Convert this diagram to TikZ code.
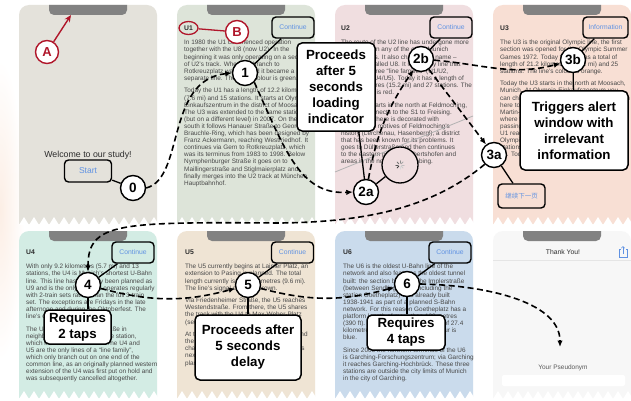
\documentclass[tikz,border=0pt]{standalone}
\usepackage{fontspec}
\setmainfont{Liberation Sans}
\newfontfamily\cjkfont{Noto Sans CJK SC}
\usetikzlibrary{arrows.meta,shapes.geometric}
\definecolor{annred}{RGB}{176,22,42}
\definecolor{uiblue}{RGB}{96,146,226}
\definecolor{notchgray}{RGB}{130,130,130}
\definecolor{bodygray}{RGB}{72,72,72}
\definecolor{labgray}{RGB}{45,45,45}
\definecolor{cwel}{RGB}{228,226,219}
\definecolor{cuone}{RGB}{221,228,217}
\definecolor{cutwo}{RGB}{240,222,224}
\definecolor{cuthree}{RGB}{248,223,212}
\definecolor{cufour}{RGB}{211,236,228}
\definecolor{cufive}{RGB}{239,228,212}
\definecolor{cusix}{RGB}{202,219,236}
\definecolor{cthanks}{RGB}{247,247,247}
\definecolor{peachc}{RGB}{252,238,229}

% x, top, bottom, width, colour
\newcommand\phonebody[5]{%
  \fill[#5] (#1,-#3) -- (#1,-#2-10) arc[start angle=180,end angle=90,radius=10pt]
     -- (#1+#4-10,-#2) arc[start angle=90,end angle=0,radius=10pt] -- (#1+#4,-#3) -- cycle;
  \foreach \k in {0,...,13}{\fill[white] (#1+\k*10,-#3-1) -- (#1+\k*10+5,-#3+7) -- (#1+\k*10+10,-#3-1) -- cycle;}
  \fill[notchgray] (#1+#4/2-39,-#2) -- (#1+#4/2-39,-#2-5) arc[start angle=180,end angle=270,radius=5pt]
     -- (#1+#4/2+34,-#2-10) arc[start angle=270,end angle=360,radius=5pt] -- (#1+#4/2+39,-#2) -- cycle;
}

\begin{document}
\begin{tikzpicture}[x=1pt,y=1pt,
  num/.style={circle,draw=black,fill=white,line width=1.4pt,minimum size=25pt,inner sep=0pt,
    font=\fontsize{13.5}{14}\selectfont\bfseries},
  redc/.style={circle,draw=annred,fill=white,line width=1.4pt,minimum size=23pt,inner sep=0pt,
    text=annred,font=\fontsize{13}{14}\selectfont\bfseries},
  btn/.style={draw=black,line width=1.4pt,rounded corners=4pt,minimum width=42pt,minimum height=21pt,
    inner sep=0pt,text=uiblue,font=\fontsize{6.8}{8}\selectfont},
  callout/.style={draw=black,fill=white,line width=1.5pt,rounded corners=5pt,align=center,inner sep=0pt,
    font=\fontsize{13.3}{16}\selectfont\bfseries},
  link/.style={line width=1.3pt},
  flow/.style={line width=1.6pt,dash pattern=on 6pt off 3.5pt,-{Latex[length=6.5pt,width=5.5pt]}},
  body/.style={anchor=north west,inner sep=0pt,align=left,font=\fontsize{6.4}{7.1}\selectfont,text=bodygray},
  ulabel/.style={anchor=west,inner sep=0pt,font=\fontsize{6.8}{8}\selectfont\bfseries,text=labgray}
]
\useasboundingbox (0,0) rectangle (631,-401);
\fill[white] (0,0) rectangle (631,-401);
\shade[inner color=peachc,outer color=white] (0,-210) ellipse [x radius=24pt,y radius=150pt];

% ---------- screens ----------
\phonebody{19}{5}{224}{138}{cwel}
\phonebody{177}{5}{224}{138}{cuone}
\phonebody{335}{5}{224}{138}{cutwo}
\phonebody{493}{5}{224}{138}{cuthree}
\phonebody{19}{231}{398}{138}{cufour}
\phonebody{177}{231}{398}{138}{cufive}
\phonebody{335}{231}{398}{138}{cusix}
\phonebody{493}{231}{398}{138}{cthanks}

% ---------- welcome screen ----------
\node[inner sep=0pt,text=labgray,font=\fontsize{8.8}{10}\selectfont] (welcome) at (88,-155) {Welcome to our study!};
\node[btn,minimum width=47pt,minimum height=22pt,font=\fontsize{8.5}{10}\selectfont] (start) at (88,-171) {Start};

% ---------- U1 ----------
\node[ulabel] (lone) at (184,-28) {U1};
\node[body] (tone) at (184,-40) {In 1980 the U1 commenced operation\\
together with the U8 (now U2). In the\\
beginning it was only operating on a section\\
of U2's track. When the branch to\\
Rotkreuzplatz was opened it became a\\
separate line. The line's colour is green.\\[5.5pt]
Today the U1 has a length of 12.2 kilometres\\
(7.6 mi) and 15 stations. It starts at Olympia-\\
Einkaufszentrum in the district of Moosach.\\
The U3 was extended to the same station\\
(but on a different level) in 2007. On the way\\
south it follows Hanauer Straße to Georg-\\
Brauchle-Ring, which has been designed by\\
Franz Ackermann, reaching Westfriedhof. It\\
continues via Gern to Rotkreuzplatz, which\\
was its terminus from 1983 to 1998. Below\\
Nymphenburger Straße it goes on to\\
Maillingerstraße and Stiglmaierplatz and\\
finally merges into the U2 track at München\\
Hauptbahnhof.};
\node[btn] (cont1) at (293,-27.5) {Continue};

% ---------- U2 ----------
\node[ulabel] (ltwo) at (341,-28) {U2};
\node[body] (ttwo) at (341,-40) {The route of the U2 line has undergone more\\
changes than any of the other Munich\\
U-Bahn lines. It also changed its name --\\
it was first called U8. It is the only line that\\
runs in all three “line families” (U1/U2,\\
U3/U6 and U4/U5). Today it has a length of\\
24.4 kilometres (15.2 mi) and 27 stations. The\\
line's colour is red.\\[5.5pt]
The route starts in the north at Feldmoching,\\
where it connects to the S1 to Freising.\\
The station there is decorated with\\
pictures and motives of Feldmoching's\\
history (Lerchenau, Hasenbergl), a district\\
that has been known for its problems. It\\
goes to Dülferstraße and then continues\\
to the eastern parts of Milbertshofen and\\
areas in the north of Schwabing.};
\draw[black!30,line width=0.8pt] (335,-172) -- (473,-116);
\node[btn] (cont2) at (451,-27.5) {Continue};
\node[circle,draw=black,line width=1.3pt,fill=cutwo,minimum size=36pt,inner sep=0pt] (mag) at (400,-165) {};
\foreach \a/\g in {0/25,45/35,90/45,135/55,180/65,225/75,270/15,315/20}
  \draw[black!\g,line width=0.8pt,line cap=round] (400,-165) ++(\a:1.8) -- ++(\a:2.4);

% ---------- U3 ----------
\node[ulabel] (lthree) at (500,-28) {U3};
\node[body] (tthree) at (500,-40) {The U3 is the original Olympic line, the first\\
section was opened for the Olympic Summer\\
Games 1972. Today the U3 has a total of\\
length of 21.2 kilometres (13.2 mi) and 25\\
stations. The line's colour is orange.\\[5.5pt]
Today the U3 starts in the north at Moosach,\\
Munich. At Olympia-Einkaufszentrum you\\
can change to the U1. The U3 continues from\\
here to Oberwiesenfeld and Olympiazentrum,\\
Martin-Luther-King-Weg, and reaches the\\
where the Olympic Park is located. After\\
passing Petuelring, the U3 and the\\
U1 reach Scheidplatz. From there it joins the\\
Olympic line to Münchner Freiheit and the\\
stations of the city centre and its statio-\\
ns. Today the line ends in Fürstenried West.};
\node[btn,minimum width=45pt] (info) at (605.5,-27.5) {Information};
\node[btn,minimum width=47pt,minimum height=24pt,font=\cjkfont\fontsize{6.5}{8}\selectfont] (cont3a) at (521.5,-196) {继续下一页};

% ---------- U4 ----------
\node[ulabel] (lfour) at (26,-252) {U4};
\node[body] (tfour) at (26,-264) {With only 9.2 kilometres (5.7 mi) and 13\\
stations, the U4 is Munich's shortest U-Bahn\\
line. This line has originally been planned as\\
U9 and is the only line that operates regularly\\
with 2-train sets rather than the full 3-train\\
set. The exceptions are Fridays in the late\\
afternoon and during the Oktoberfest. The\\
line's colour is turquoise.\\[5.5pt]
The U4 begins at Westendstraße in\\
neighbouring Laim at the same station,\\
which it shares with the U5. The U4 and\\
U5 are the only lines of a “line family”,\\
which only branch out on one end of the\\
common line, as an originally planned western\\
extension of the U4 was first put on hold and\\
was subsequently cancelled altogether.};
\node[btn] (cont4) at (133,-252.5) {Continue};

% ---------- U5 ----------
\node[ulabel] (lfive) at (185,-252) {U5};
\node[body] (tfive) at (185,-264) {The U5 currently begins at Laimer Platz, an\\
extension to Pasing is planned. The total\\
length currently is 15.4 kilometres (9.6 mi).\\
The line's signal colour is brown.\\[5.5pt]
Via Friedenheimer Straße, the U5 reaches\\
Westendstraße. From there, the U5 shares\\
the track with the U4 to Max-Weber-Platz\\
(see above).\\[5.5pt]
At the Innsbrucker Ring station, the U5 and\\
the U2 run parallel in one station, where\\
changing is made easy. The U5 continues\\
next to Neuperlach, one of the largest\\
planned settlements in Germany.};
\node[btn] (cont5) at (292.5,-252.5) {Continue};

% ---------- U6 ----------
\node[ulabel] (lsix) at (343,-252) {U6};
\node[body] (tsix) at (343,-264) {The U6 is the oldest U-Bahn line of the\\
network and also features the oldest tunnel\\
built: the section between the Implerstraße\\
(between Sendlinger Tor) including the\\
station Goetheplatz) was already built\\
1938-1941 as part of a planned S-Bahn\\
network. For this reason Goetheplatz has a\\
platform length of more than 120 metres\\
(390 ft). Today the U6 has a length of 27.4\\
kilometres (17.0 mi). The line's colour is\\
blue.\\[5.5pt]
Since 2006 the northern terminus of the U6\\
is Garching-Forschungszentrum; via Garching\\
it reaches Garching-Hochbrück. These three\\
stations are outside the city limits of Munich\\
in the city of Garching.};
\node[btn] (cont6) at (450,-252.5) {Continue};

% ---------- thank you ----------
\node[inner sep=0pt,text=labgray,font=\fontsize{6.8}{8}\selectfont] (thanks) at (563,-252) {Thank You!};
\draw[black!10,line width=0.5pt] (493,-260) -- (631,-260);
\draw[uiblue,line width=0.6pt] (620.5,-249.5) -- (619,-249.5) -- (619,-257.5) -- (627,-257.5) -- (627,-249.5) -- (625.5,-249.5);
\draw[uiblue,line width=0.6pt] (623,-254) -- (623,-246.5);
\draw[uiblue,line width=0.6pt] (621.3,-248.2) -- (623,-246.5) -- (624.7,-248.2);
\node[inner sep=0pt,text=black!65,font=\fontsize{6.5}{8}\selectfont] (pseudo) at (563,-368) {Your Pseudonym};
\fill[white,rounded corners=2pt] (502,-375) rectangle (625,-386);
\coordinate (endpt) at (560,-347);

% ---------- red annotations ----------
\coordinate (notchA) at (71,-15);
\node[redc] (nA) at (47,-52) {A};
\draw[annred,line width=1.4pt,-{Stealth[length=7pt,width=6pt]}] (nA) -- (notchA);
\node[ellipse,draw=annred,line width=1.3pt,minimum width=19pt,minimum height=13pt,inner sep=0pt] (uring) at (188.5,-28) {};
\node[redc] (nB) at (237,-32) {B};
\draw[annred,line width=1.3pt] (uring) -- (nB);

% ---------- numbered steps ----------
\node[num] (n0) at (133,-188) {0};
\node[num] (n1) at (245,-73) {1};
\node[num] (n2a) at (366,-192) {2a};
\node[num] (n2b) at (421,-59) {2b};
\node[num] (n3a) at (494,-155) {3a};
\node[num] (n3b) at (573,-60) {3b};
\node[num] (n4) at (88,-285) {4};
\node[num] (n5) at (248,-285) {5};
\node[num] (n6) at (407,-284) {6};

% ---------- flow (dashed) ----------
\draw[flow] (n0.east) .. controls (185,-178) and (165,-80) .. (n1.west);
\draw[flow] (n1.south east) .. controls (285,-150) and (300,-195) .. (n2a.west);
\draw[flow] (n2a) to[bend left=12] (n2b);
\draw[flow] (n2b) -- (n3a);
\draw[flow] (n2b) to[out=-5,in=195] (n3b);
\draw[flow] (n3a.225) .. controls (430,-210) and (360,-222) .. (280,-223) .. controls (120,-222) and (88,-222) .. (n4.north);
\draw[flow] (n4) to[out=-15,in=195] (n5);
\draw[flow] (n5) to[out=-15,in=195] (n6);
\draw[flow] (n6.east) .. controls (480,-285) and (560,-300) .. (endpt);

% ---------- callouts ----------
\node[callout,minimum width=78pt,minimum height=88pt] (cbox2) at (336,-87) {Proceeds\\after 5\\seconds\\loading\\indicator};
\node[callout,minimum width=108pt,minimum height=79pt] (cbox3) at (574,-130.5) {Triggers alert\\window with\\irrelevant\\information};
\node[callout,minimum width=67pt,minimum height=34pt] (cbox4) at (77.5,-327) {Requires\\2 taps};
\node[callout,minimum width=106pt,minimum height=65pt] (cbox5) at (248,-347.5) {Proceeds after\\5 seconds\\delay};
\node[callout,minimum width=78pt,minimum height=35pt] (cbox6) at (406,-332.5) {Requires\\4 taps};

% ---------- solid links ----------
\draw[link] (start) -- (n0);
\draw[link] (cont1) -- (n1);
\draw[link] (cont2) -- (n2b);
\draw[link] (info) -- (n3b);
\draw[link] (n3b) -- (cbox3);
\draw[link] (n3a) -- (cont3a);
\draw[link] (cbox2.-63) -- (n2a);
\draw[link] (n2a) -- (mag);
\draw[link] (cont4) -- (n4);
\draw[link] (n4) -- (n4 |- cbox4.north);
\draw[link] (cont5) -- (n5);
\draw[link] (n5) -- (cbox5);
\draw[link] (cont6) -- (n6);
\draw[link] (n6) -- (n6 |- cbox6.north);
\end{tikzpicture}
\end{document}
